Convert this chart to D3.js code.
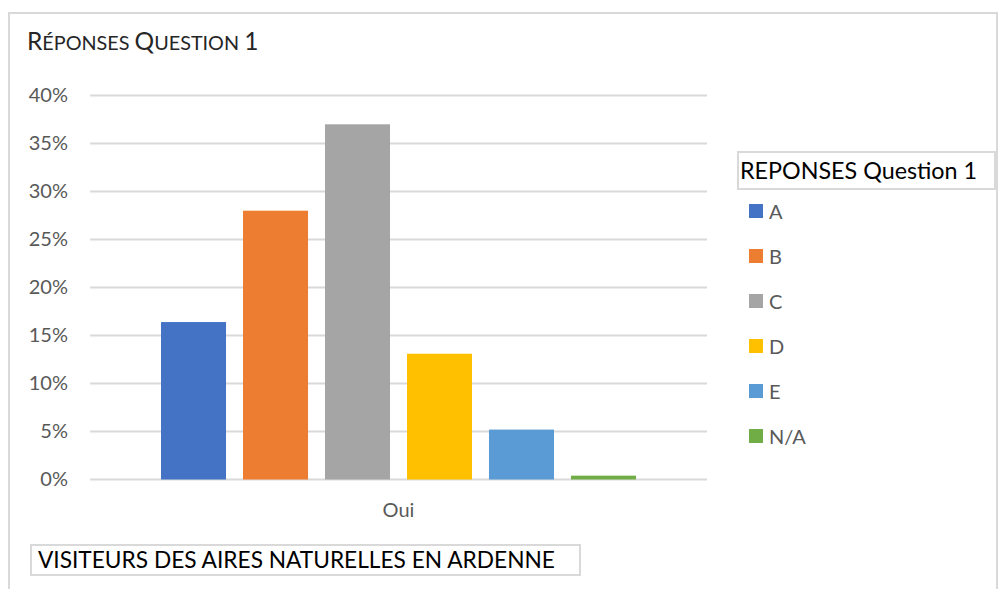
<!DOCTYPE html>
<html>
<head>
<meta charset="utf-8">
<script src="https://d3js.org/d3.v7.min.js"></script>
<style>
body { margin: 0; background: #fff; }
text { font-family: Lato, "Open Sans", sans-serif; }
</style>
</head>
<body>
<div id="chart"></div>
<script>
var categories = ["Oui"];
var series = ["A", "B", "C", "D", "E", "N/A"];
var values = [16.4, 28.0, 37.0, 13.1, 5.2, 0.4];
var colors = ["#4472C4", "#ED7D31", "#A5A5A5", "#FFC000", "#5B9BD5", "#70AD47"];
var yTicks = [0, 5, 10, 15, 20, 25, 30, 35, 40];

var width = 998, height = 589;
var svg = d3.select("#chart").append("svg")
  .attr("width", width).attr("height", height);

// chart area border (clipped at the bottom like the source)
svg.append("rect")
  .attr("x", 9).attr("y", 13)
  .attr("width", 988).attr("height", 600)
  .attr("fill", "#fff").attr("stroke", "#d9d9d9").attr("stroke-width", 2);

// title in small caps: capitals big, the rest smaller upper case
var titleParts = [["R", 1], ["ÉPONSES ", 0], ["Q", 1], ["UESTION ", 0], ["1", 1]];
svg.append("text")
  .attr("x", 27).attr("y", 50)
  .attr("fill", "#262626")
  .selectAll("tspan")
  .data(titleParts)
  .enter().append("tspan")
  .style("font-size", function(d) { return d[1] ? "24.5px" : "19.8px"; })
  .text(function(d) { return d[0]; });

var plot = { left: 90, right: 707, top: 95.5, bottom: 479.5 };

var y = d3.scaleLinear().domain([0, 40]).range([plot.bottom, plot.top]);
var x0 = d3.scaleBand().domain(categories).range([plot.left, plot.right]);
var x1 = d3.scaleBand().domain(series)
  .range([71, x0.bandwidth() - 71])
  .paddingInner(0.207);

// gridlines
svg.append("g")
  .selectAll("line")
  .data(yTicks)
  .enter().append("line")
  .attr("x1", plot.left).attr("x2", plot.right)
  .attr("y1", function(d) { return y(d); })
  .attr("y2", function(d) { return y(d); })
  .attr("stroke", "#d9d9d9").attr("stroke-width", 2);

// y axis labels
var yAxis = d3.axisLeft(y).tickValues(yTicks)
  .tickFormat(function(d) { return d + "%"; })
  .tickSize(0).tickPadding(22);
var gy = svg.append("g").attr("transform", "translate(" + plot.left + ",0)").call(yAxis);
gy.select(".domain").remove();
gy.selectAll("text")
  .attr("fill", "#595959")
  .style("font-size", "20px")
  .style("font-family", "Lato, sans-serif");

// bars
var cat = svg.append("g").selectAll("g")
  .data(categories)
  .enter().append("g")
  .attr("transform", function(d) { return "translate(" + x0(d) + ",0)"; });

cat.selectAll("rect")
  .data(series.map(function(s, i) { return { s: s, v: values[i], c: colors[i] }; }))
  .enter().append("rect")
  .attr("x", function(d) { return x1(d.s); })
  .attr("width", x1.bandwidth())
  .attr("y", function(d) { return y(d.v); })
  .attr("height", function(d) { return y(0) - y(d.v); })
  .attr("fill", function(d) { return d.c; });

// x axis labels
var xAxis = d3.axisBottom(x0).tickSize(0).tickPadding(23);
var gx = svg.append("g").attr("transform", "translate(0," + plot.bottom + ")").call(xAxis);
gx.select(".domain").remove();
gx.selectAll("text")
  .attr("fill", "#595959")
  .style("font-size", "20px")
  .style("font-family", "Lato, sans-serif");

// legend
var leg = svg.append("g");
leg.append("rect")
  .attr("x", 738).attr("y", 152).attr("width", 257).attr("height", 37)
  .attr("fill", "#fff").attr("stroke", "#d9d9d9").attr("stroke-width", 2);
leg.append("text")
  .attr("x", 740).attr("y", 179)
  .style("font-size", "23.3px")
  .attr("fill", "#000")
  .text("REPONSES Question 1");

var legItems = leg.selectAll("g.item")
  .data(series)
  .enter().append("g")
  .attr("class", "item")
  .attr("transform", function(d, i) { return "translate(749," + (211 + i * 45) + ")"; });
legItems.append("rect")
  .attr("x", 0).attr("y", -7).attr("width", 14).attr("height", 14)
  .attr("fill", function(d, i) { return colors[i]; });
legItems.append("text")
  .attr("x", 20).attr("y", 7.5)
  .style("font-size", "20px")
  .attr("fill", "#595959")
  .text(function(d) { return d; });

// bottom caption box
svg.append("rect")
  .attr("x", 31).attr("y", 545).attr("width", 549).attr("height", 30)
  .attr("fill", "#fff").attr("stroke", "#d9d9d9").attr("stroke-width", 2);
svg.append("text")
  .attr("x", 38).attr("y", 568)
  .style("font-size", "22.7px")
  .attr("fill", "#000")
  .text("VISITEURS DES AIRES NATURELLES EN ARDENNE");
</script>
</body>
</html>
